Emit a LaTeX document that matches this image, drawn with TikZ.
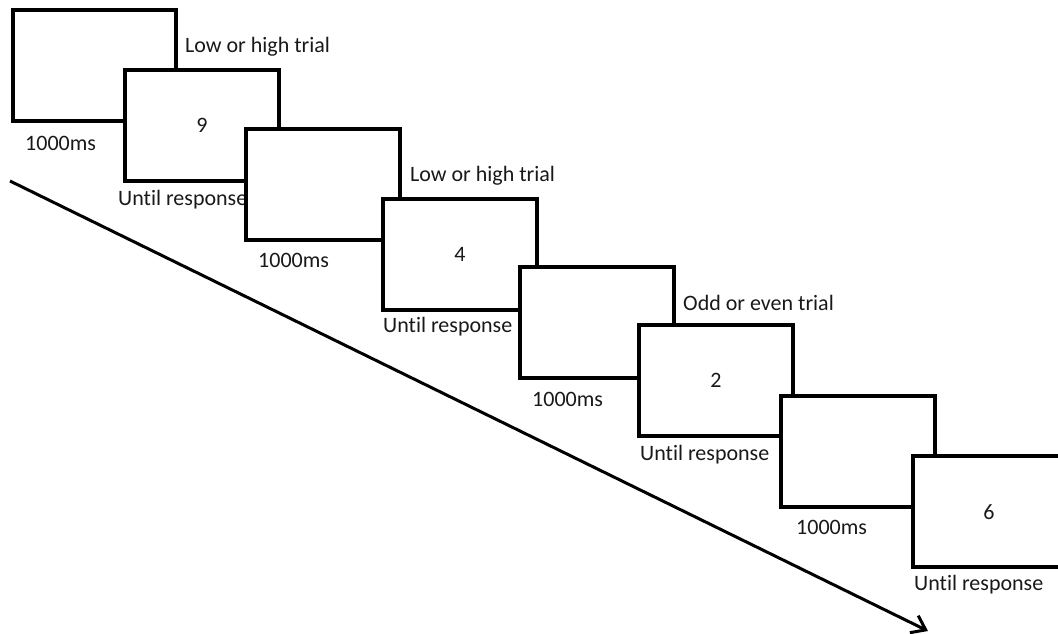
\documentclass[tikz,border=0pt]{standalone}
\usepackage{fontspec}
\setmainfont[Ligatures=NoCommon]{Carlito}
\usetikzlibrary{arrows.meta}

\begin{document}
\begin{tikzpicture}[x=1pt,y=-1pt,
    screen/.style={draw, line width=3.4pt, fill=white, minimum width=154pt,
      minimum height=111pt, inner sep=0pt, outer sep=0pt},
    txt/.style={inner sep=0pt, anchor=west, text=black!90},
    digit/.style={text=black!90}]
  \clip (0,0) rectangle (1058,633);
  \fontsize{22}{24}\selectfont

  % Zeitachse
  \coordinate (tstart) at (10,181);
  \coordinate (tend) at (928,631);
  \draw[line width=3pt, -{Straight Barb[length=13pt,width=19pt,line width=3pt]}]
    (tstart) -- (tend);

  % Bildschirme
  \node[screen, anchor=north west, minimum width=163pt] (s1) at (13,10) {};
  \node[txt] (t1) at (185,47) {Low or high trial};
  \node[txt] (d1) at (25,143) {1000ms};

  \node[screen, anchor=north west] (s2) at (125,70) {};
  \node[digit] (n2) at (s2.center) {9};
  \node[txt] (u2) at (118,200) {Until response};

  \node[screen, anchor=north west] (s3) at (246,129) {};
  \node[txt] (t3) at (410,176) {Low or high trial};
  \node[txt] (d3) at (258,260) {1000ms};

  \node[screen, anchor=north west] (s4) at (383,199) {};
  \node[digit] (n4) at (s4.center) {4};
  \node[txt] (u4) at (383,327) {Until response};

  \node[screen, anchor=north west] (s5) at (520,267) {};
  \node[txt] (t5) at (683,303) {Odd or even trial};
  \node[txt] (d5) at (532,399) {1000ms};

  \node[screen, anchor=north west] (s6) at (639,325) {};
  \node[digit] (n6) at (s6.center) {2};
  \node[txt] (u6) at (640,455) {Until response};

  \node[screen, anchor=north west] (s7) at (781,396) {};
  \node[txt] (d7) at (796,527) {1000ms};

  \node[screen, anchor=north west] (s8) at (913,456) {};
  \node[digit] (n8) at (989,512) {6};
  \node[txt] (u8) at (914,585) {Until response};

\end{tikzpicture}
\end{document}
